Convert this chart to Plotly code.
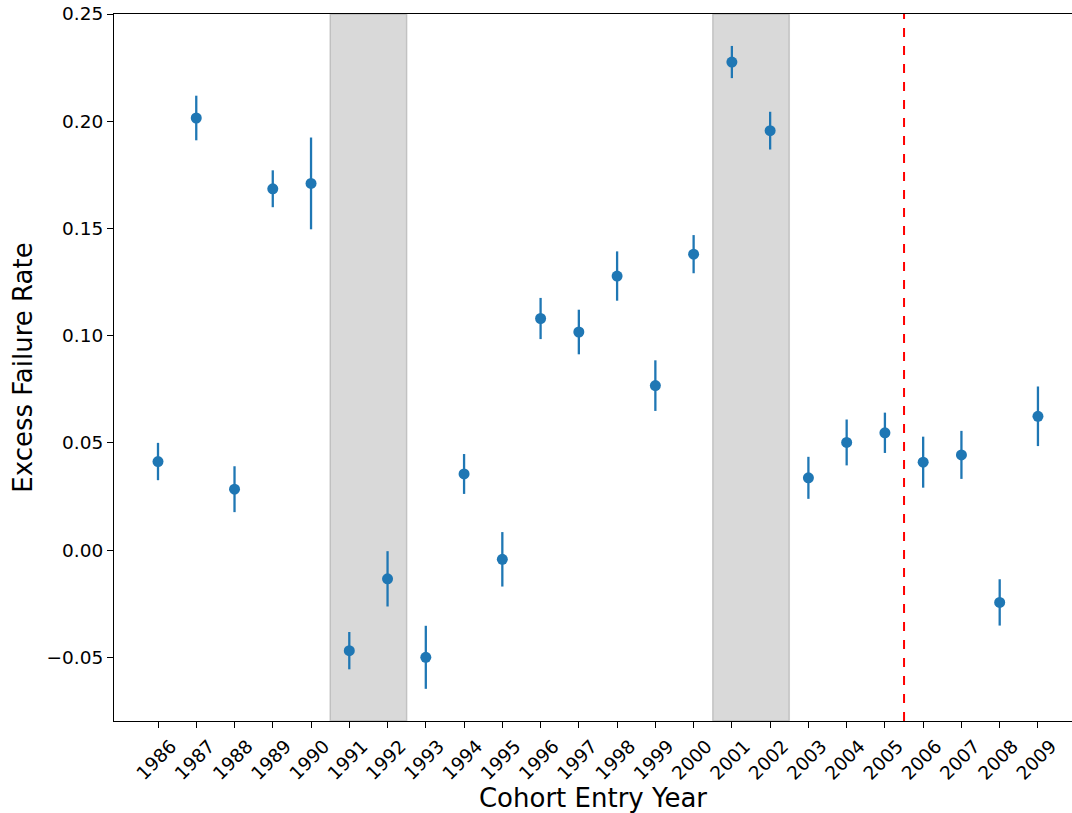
import plotly.graph_objects as go

years = list(range(1986, 2010))
rates = [0.0413, 0.2015, 0.0284, 0.1685, 0.171, -0.0469, -0.0134, -0.050,
         0.0355, -0.0043, 0.108, 0.1017, 0.1278, 0.0767, 0.138, 0.2276,
         0.1956, 0.0337, 0.0502, 0.0547, 0.041, 0.0444, -0.0244, 0.0624]
errors = [0.0087, 0.0104, 0.0107, 0.0086, 0.0214, 0.0087, 0.0129, 0.0147,
          0.0093, 0.0127, 0.0096, 0.0104, 0.0115, 0.0118, 0.0089, 0.0075,
          0.0088, 0.0098, 0.0107, 0.0094, 0.0119, 0.0112, 0.0108, 0.0139]
shaded_periods = [(1990.5, 1992.5), (2000.5, 2002.5)]
policy_line = 2005.5
ytick_vals = [-0.05, 0.0, 0.05, 0.10, 0.15, 0.20, 0.25]
ytick_text = ["\u22120.05", "0.00", "0.05", "0.10", "0.15", "0.20", "0.25"]

FONT = "DejaVu Sans"

fig = go.Figure()
fig.add_trace(go.Scatter(
    x=years, y=rates, mode="markers",
    marker=dict(color="#1f77b4", size=11),
    error_y=dict(type="data", array=errors, visible=True, color="#1f77b4",
                 thickness=2.3, width=0),
    showlegend=False,
))

for x0, x1 in shaded_periods:
    fig.add_shape(type="rect", xref="x", yref="paper", x0=x0, x1=x1, y0=0, y1=1,
                  fillcolor="rgba(128,128,128,0.3)",
                  line=dict(color="rgba(128,128,128,0.35)", width=1.5), layer="below")

fig.add_shape(type="line", xref="x", yref="paper", x0=policy_line, x1=policy_line,
              y0=0, y1=1, line=dict(color="red", width=2, dash="dash"))

fig.update_layout(
    width=1072, height=813,
    margin=dict(l=114, r=0, t=14, b=92),
    plot_bgcolor="white", paper_bgcolor="white",
    font=dict(family=FONT, color="black"),
    xaxis=dict(
        range=[1984.85, 2009.89], automargin=False,
        tickmode="array", tickvals=years, ticktext=[str(y) for y in years],
        tickangle=-45, tickfont=dict(size=18.5, family=FONT),
        ticklabelshift=13,
        showgrid=False, zeroline=False,
        showline=True, linecolor="black", linewidth=1.2, mirror=True,
        ticks="outside", ticklen=6, tickcolor="black",
        title=dict(text="Cohort Entry Year", font=dict(size=26, family=FONT), standoff=5),
    ),
    yaxis=dict(
        range=[-0.0797, 0.25], automargin=False,
        tickmode="array", tickvals=ytick_vals, ticktext=ytick_text,
        tickfont=dict(size=18.5, family=FONT),
        showgrid=False, zeroline=False,
        showline=True, linecolor="black", linewidth=1.2,
        ticks="outside", ticklen=6, tickcolor="black",
        title=dict(text="Excess Failure Rate", font=dict(size=26, family=FONT), standoff=6),
    ),
)

fig.write_html(
    "out.html",
    config={"displayModeBar": False},
    post_script="document.body.style.margin='0';document.body.style.overflow='hidden';",
)
